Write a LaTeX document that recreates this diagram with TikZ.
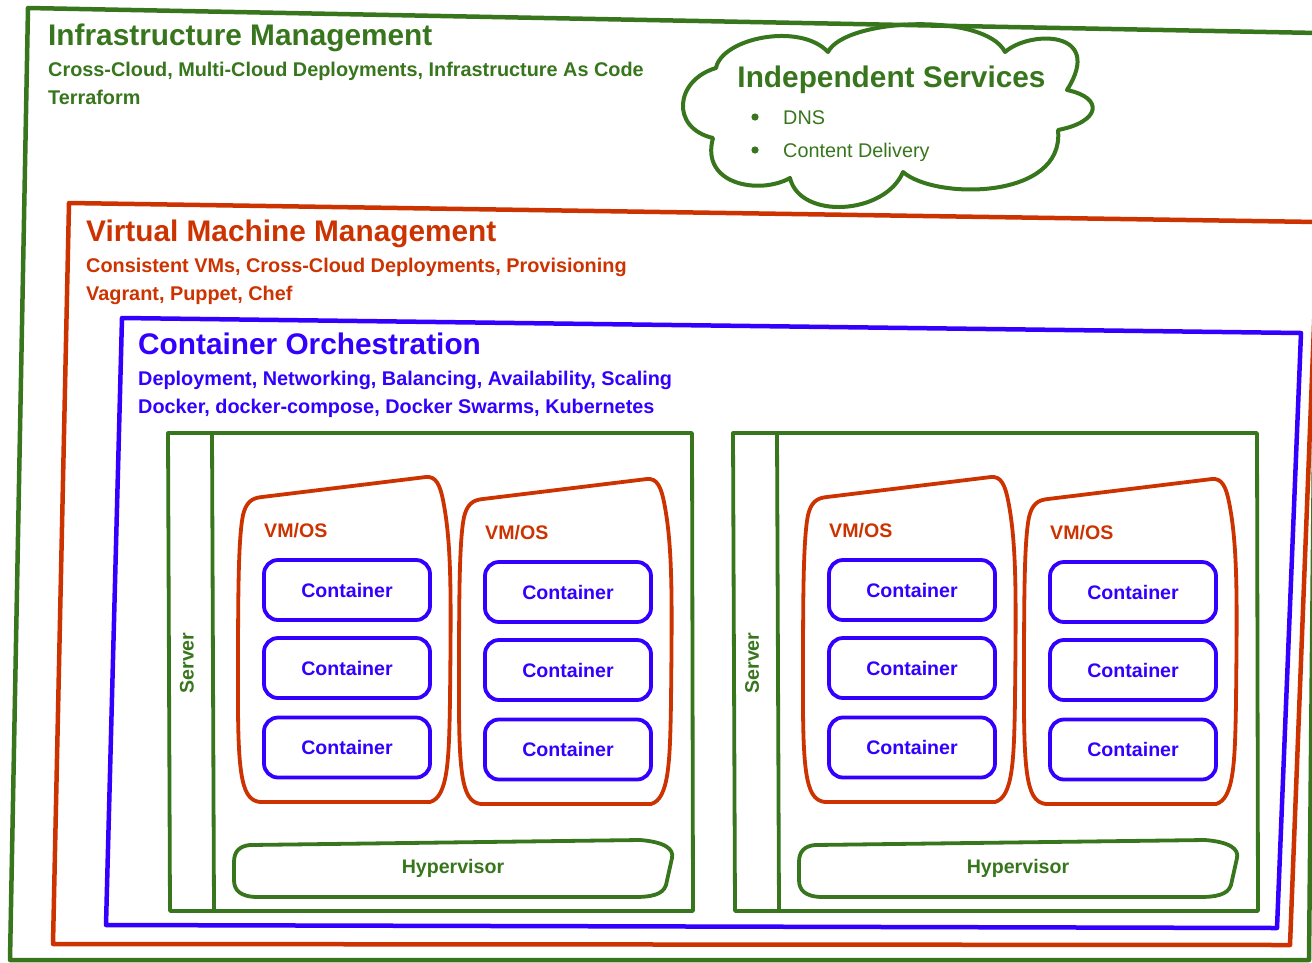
\documentclass[tikz,border=0pt]{standalone}
\usepackage{fontspec}
\setmainfont{Liberation Sans}
\definecolor{igreen}{RGB}{56,118,29}
\definecolor{ired}{RGB}{204,51,0}
\definecolor{iblue}{RGB}{51,0,255}
\begin{document}
\begin{tikzpicture}[x=1pt,y=-1pt,line join=round,line cap=round,
  bigtitle/.style={font=\fontsize{29.8}{34}\selectfont\bfseries,anchor=base west,inner sep=0pt},
  subline/.style={font=\fontsize{19.85}{23}\selectfont\bfseries,anchor=base west,inner sep=0pt},
  contbox/.style={draw=iblue,line width=3.8pt,rounded corners=14pt,minimum width=166pt,minimum height=60pt,text=iblue,inner sep=0pt,font=\fontsize{19.6}{23}\selectfont\bfseries},
  vmline/.style={draw=ired,line width=3.8pt},
  greenline/.style={draw=igreen,line width=3.8pt},
  smalllabel/.style={font=\fontsize{19.6}{23}\selectfont\bfseries,inner sep=0pt}]
\useasboundingbox (0,0) rectangle (1312,962);
\fill[white] (0,0) rectangle (1312,962);
% outer frames
\draw[igreen,line width=4.5pt] (28,8) -- (1318,33) -- (1309,960) -- (10,960) -- cycle;
\draw[ired,line width=4.5pt] (69,203) -- (1318,222) -- (1290,945) -- (53,944) -- cycle;
\draw[iblue,line width=4.5pt] (122,318) -- (1301,333) -- (1277,928) -- (106,925) -- cycle;
% titles
\node[bigtitle,text=igreen] (t1) at (48,45) {Infrastructure Management};
\node[subline,text=igreen] (t1a) at (48,76.5) {Cross-Cloud, Multi-Cloud Deployments, Infrastructure As Code};
\node[subline,text=igreen] (t1b) at (48,104.5) {Terraform};
\node[bigtitle,text=ired] (t2) at (86,241) {Virtual Machine Management};
\node[subline,text=ired] (t2a) at (86,272.5) {Consistent VMs, Cross-Cloud Deployments, Provisioning};
\node[subline,text=ired] (t2b) at (86,300.5) {Vagrant, Puppet, Chef};
\node[bigtitle,text=iblue] (t3) at (138,354) {Container Orchestration};
\node[subline,text=iblue] (t3a) at (138,385.5) {Deployment, Networking, Balancing, Availability, Scaling};
\node[subline,text=iblue] (t3b) at (138,413.5) {Docker, docker-compose, Docker Swarms, Kubernetes};
% cloud
\draw[igreen,line width=4pt] (716,68)
  .. controls (722,38) and (800,22) .. (828,52)
  .. controls (845,18) and (985,12) .. (1005,52)
  .. controls (1030,30) and (1105,30) .. (1067,90)
  .. controls (1105,98) and (1100,122) .. (1058,130)
  .. controls (1065,200) and (935,200) .. (903,172)
  .. controls (885,215) and (800,220) .. (790,178)
  .. controls (760,195) and (700,185) .. (713,138)
  .. controls (670,128) and (675,80) .. (716,68) -- cycle;
\node[font=\fontsize{29.8}{34}\selectfont\bfseries,text=igreen,anchor=base,inner sep=0pt] (is) at (891.5,87) {Independent Services};
\fill[igreen] (755,117) circle (3.6);
\fill[igreen] (755,150) circle (3.6);
\node[font=\fontsize{19.8}{23}\selectfont,text=igreen,anchor=base west,inner sep=0pt] (dns) at (783,124) {DNS};
\node[font=\fontsize{19.8}{23}\selectfont,text=igreen,anchor=base west,inner sep=0pt] (cdn) at (783,157) {Content Delivery};
% server boxes
\foreach \sx/\n in {0/1,565/2}{
  \begin{scope}[shift={(\sx,0)}]
    \draw[greenline] (168,433) -- (692,433) -- (693,911) -- (170,911) -- cycle;
    \draw[greenline] (212,433) -- (214,911);
    \node[smalllabel,text=igreen,rotate=90] (server\n) at (187,663) {Server};
    \draw[greenline] (250,845) -- (640,840) .. controls (665,842) and (674,849) .. (672,858)
      -- (666,885) .. controls (663,895) and (650,897) .. (635,897) -- (258,897)
      .. controls (240,897) and (234,890) .. (234,880) -- (234,862)
      .. controls (234,851) and (240,846) .. (250,845) -- cycle;
    \node[smalllabel,text=igreen] (hyp\n) at (453,868) {Hypervisor};
  \end{scope}
}
% VMs and containers
\foreach \dx/\dy/\n in {0/0/1,221/2/2,565/0/3,786/2/4}{
  \begin{scope}[shift={(\dx,\dy)}]
    \draw[vmline] (262,497) -- (426,477) .. controls (436,476) and (440,485) .. (443,500)
      .. controls (452,545) and (451,600) .. (450,700) .. controls (449,760) and (448,797) .. (430,802)
      -- (260,802) .. controls (243,800) and (238,780) .. (238,700)
      .. controls (238,600) and (238,540) .. (243,515) .. controls (246,503) and (251,498) .. (262,497) -- cycle;
    \node[smalllabel,text=ired,anchor=base west] (vm\n) at (264,537) {VM/OS};
    \node[contbox] (c\n a) at (347,590) {Container};
    \node[contbox] (c\n b) at (347,668) {Container};
    \node[contbox] (c\n c) at (347,747.5) {Container};
  \end{scope}
}
\end{tikzpicture}
\end{document}
